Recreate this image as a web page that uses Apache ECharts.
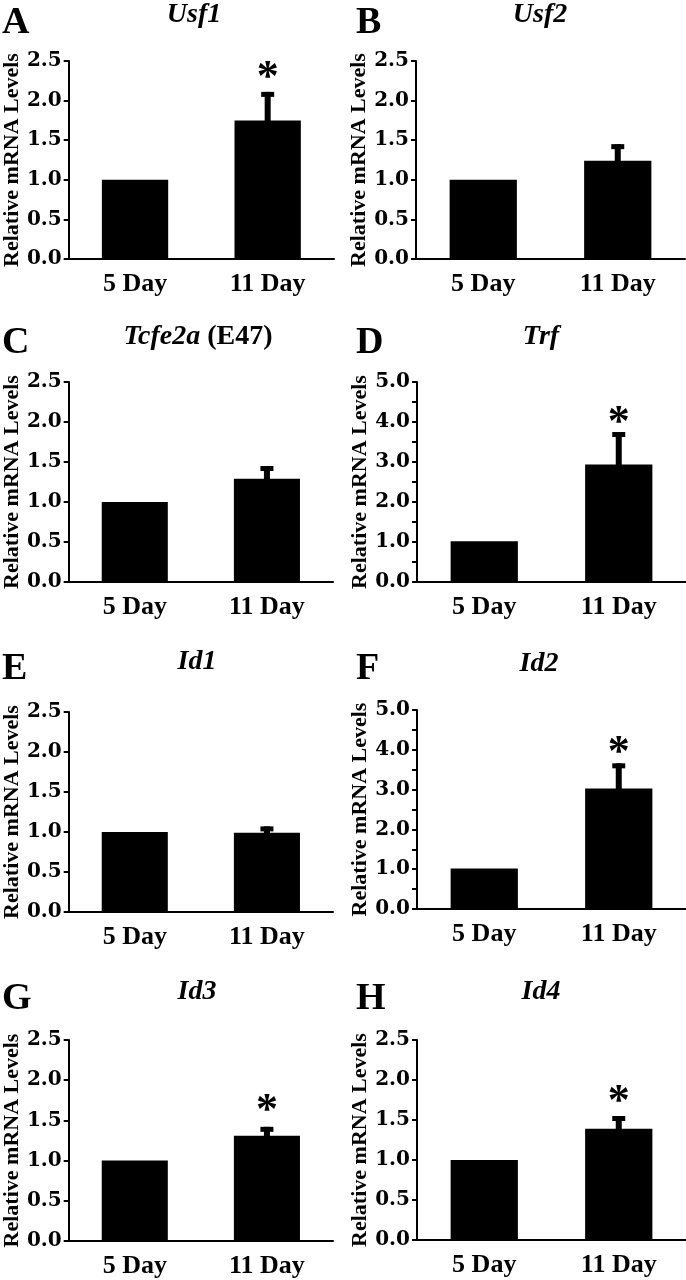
<!DOCTYPE html>
<html>
<head>
<meta charset="utf-8">
<script src="https://cdn.jsdelivr.net/npm/echarts@6/dist/echarts.min.js"></script>
<style>
html,body{margin:0;padding:0;background:#fff;}
#chart{width:686px;height:1280px;}
</style>
</head>
<body>
<div id="chart"></div>
<script>
// ---- data ----
const categories = ['5 Day', '11 Day'];
const panelLetters = ['A', 'B', 'C', 'D', 'E', 'F', 'G', 'H'];
const geneNames = ['Usf1', 'Usf2', 'Tcfe2a', 'Trf', 'Id1', 'Id2', 'Id3', 'Id4'];
const geneSuffix = ['', '', ' (E47)', '', '', '', '', ''];
const day5Means = [1.0, 1.0, 1.0, 1.02, 1.0, 1.02, 1.0, 1.0];
const day11Means = [1.75, 1.24, 1.29, 2.94, 0.99, 3.03, 1.31, 1.39];
const day11Err = [0.36, 0.21, 0.16, 0.81, 0.08, 0.63, 0.11, 0.16];
const sigMarkY = [2.37, null, null, 4.14, null, 4.09, 1.70, 1.81];
const yMax = [2.5, 2.5, 2.5, 5, 2.5, 5, 2.5, 2.5];
const yInterval = [0.5, 0.5, 0.5, 1, 0.5, 1, 0.5, 0.5];
const yAxisTitle = 'Relative mRNA Levels';

// ---- layout (pixels) ----
const gridLeft = [66, 416, 65, 417, 65, 417, 65, 417];
const gridWidth = [268, 269, 268, 269, 268, 269, 268, 269];
const gridTop = [61, 61, 382, 382, 712, 710, 1040, 1040];
const gridHeight = [198, 198, 200, 200, 200, 199, 201, 200];
const titleCenterX = [194, 540, 198, 541, 197, 539, 197, 541];
const titleTop = [1, 1, 323, 323, 648, 650, 978, 978];
const letterLeft = [2, 356, 2, 356, 2, 356, 2, 356];
const letterTop = [4, 4, 324, 324, 650, 650, 980, 980];
const nameGap = [38, 32, 38, 33, 38, 33, 38, 33];

const serif = '"Liberation Serif", "Times New Roman", serif';
const tickFont = '"DejaVu Serif", serif';

function errRender(params, api) {
  const x = api.value(0), m = api.value(1), e = api.value(2);
  const top = api.coord([x, m + e]);
  const base = api.coord([x, m]);
  const capW = 13, stemW = 6, capH = 5;
  return {
    type: 'group',
    children: [
      { type: 'rect', shape: { x: top[0] - stemW / 2, y: top[1], width: stemW, height: base[1] - top[1] + 2 }, style: { fill: '#000' } },
      { type: 'rect', shape: { x: top[0] - capW / 2, y: top[1], width: capW, height: capH }, style: { fill: '#000' } }
    ]
  };
}
function starRender(params, api) {
  const p = api.coord([api.value(0), api.value(1)]);
  return {
    type: 'text',
    x: p[0], y: p[1] + 7,
    style: { text: '*', fill: '#000', font: 'bold 44px ' + serif, align: 'center', verticalAlign: 'middle' }
  };
}

const grids = [], xAxes = [], yAxes = [], series = [], titles = [];
for (let i = 0; i < 8; i++) {
  grids.push({ left: gridLeft[i], top: gridTop[i], width: gridWidth[i], height: gridHeight[i], containLabel: false });
  xAxes.push({
    type: 'category', gridIndex: i, data: categories,
    axisLine: { lineStyle: { color: '#000', width: 2 } },
    axisTick: { alignWithLabel: true, length: 5, lineStyle: { color: '#000', width: 2 } },
    axisLabel: { color: '#000', fontFamily: serif, fontWeight: 'bold', fontSize: 26, margin: 12 }
  });
  yAxes.push({
    type: 'value', gridIndex: i, min: 0, max: yMax[i], interval: yInterval[i],
    name: yAxisTitle, nameLocation: 'middle', nameGap: nameGap[i],
    nameTextStyle: { color: '#000', fontFamily: serif, fontWeight: 'bold', fontSize: 22 },
    axisLine: { show: true, lineStyle: { color: '#000', width: 2 } },
    axisTick: { show: true, length: 5, lineStyle: { color: '#000', width: 2 } },
    minorTick: { show: yInterval[i] === 1, splitNumber: 2, length: 5, lineStyle: { color: '#000', width: 2 } },
    splitLine: { show: false },
    axisLabel: { color: '#000', fontFamily: tickFont, fontWeight: 'bold', fontSize: 20, margin: 7,
      formatter: v => v.toFixed(1) }
  });
  series.push({
    type: 'bar', xAxisIndex: i, yAxisIndex: i, barWidth: '50%',
    data: [day5Means[i], day11Means[i]],
    itemStyle: { color: '#000' }, silent: true
  });
  series.push({
    type: 'custom', xAxisIndex: i, yAxisIndex: i, renderItem: errRender,
    data: [[1, day11Means[i], day11Err[i]]], z: 3, silent: true
  });
  if (sigMarkY[i] != null) {
    series.push({
      type: 'custom', xAxisIndex: i, yAxisIndex: i, renderItem: starRender,
      data: [[1, sigMarkY[i]]], z: 4, silent: true
    });
  }
  const titleText = geneSuffix[i] ? '{it|' + geneNames[i] + '}{up|' + geneSuffix[i] + '}' : '{it|' + geneNames[i] + '}';
  titles.push({
    text: titleText, left: titleCenterX[i], top: titleTop[i], textAlign: 'center', padding: 0,
    textStyle: {
      rich: {
        it: { fontFamily: serif, fontStyle: 'italic', fontWeight: 'bold', fontSize: 28, color: '#000' },
        up: { fontFamily: serif, fontWeight: 'bold', fontSize: 28, color: '#000' }
      }
    }
  });
  titles.push({
    text: panelLetters[i], left: letterLeft[i], top: letterTop[i], padding: 0,
    textStyle: { fontFamily: serif, fontWeight: 'bold', fontSize: 38, color: '#000' }
  });
}

const chart = echarts.init(document.getElementById('chart'), null, { renderer: 'canvas' });
chart.setOption({
  animation: false,
  backgroundColor: '#fff',
  title: titles,
  grid: grids,
  xAxis: xAxes,
  yAxis: yAxes,
  series: series
});
</script>
</body>
</html>
